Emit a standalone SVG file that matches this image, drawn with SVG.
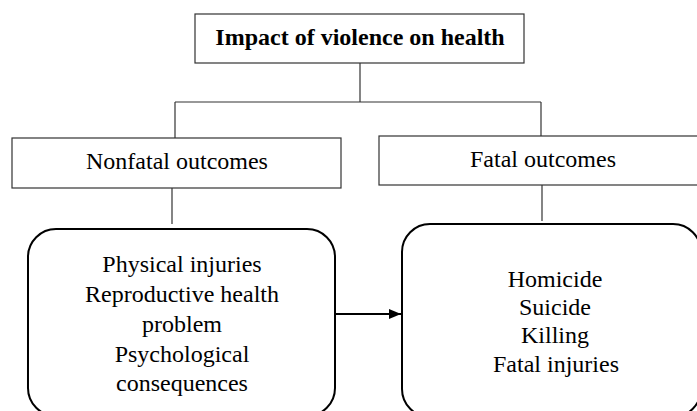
<svg xmlns="http://www.w3.org/2000/svg" width="697" height="411" viewBox="0 0 697 411">
<style>
  text { font-family: "Liberation Serif", "Times New Roman", serif; font-size: 24px; fill: #000; text-anchor: middle; }
  .title { font-weight: bold; }
  .box { fill: #fff; stroke: #333; stroke-width: 1.2; }
  .rbox { fill: #fff; stroke: #000; stroke-width: 2; }
  .conn { stroke: #333; stroke-width: 1.2; fill: none; }
  .arrow { stroke: #000; stroke-width: 2; fill: none; }
</style>
<defs>
  <marker id="ah" markerWidth="12" markerHeight="10" refX="12" refY="5" orient="auto" markerUnits="userSpaceOnUse">
    <path d="M0,0 L12,5 L0,10 Z" fill="#000"/>
  </marker>
</defs>
<rect width="697" height="411" fill="#fff"/>
<g id="connectors">
  <line class="conn" x1="360" y1="63" x2="360" y2="102"/>
  <line class="conn" x1="175" y1="102" x2="541" y2="102"/>
  <line class="conn" x1="175" y1="102" x2="175" y2="138"/>
  <line class="conn" x1="541" y1="102" x2="541" y2="136"/>
  <line class="conn" x1="172" y1="188" x2="172" y2="224"/>
  <line class="conn" x1="542" y1="185" x2="542" y2="221"/>
  <line class="arrow" x1="336" y1="314" x2="401" y2="314" marker-end="url(#ah)"/>
</g>
<g id="title">
  <rect class="box" x="195" y="14" width="329" height="49"/>
  <text class="title" x="360" y="45">Impact of violence on health</text>
</g>
<g id="nonfatal">
  <rect class="box" x="12" y="138" width="329" height="50"/>
  <text x="177" y="169">Nonfatal outcomes</text>
</g>
<g id="fatal">
  <rect class="box" x="379" y="136" width="330" height="49"/>
  <text x="543" y="167">Fatal outcomes</text>
</g>
<g id="nonfatal-list">
  <rect class="rbox" x="28" y="229" width="307" height="187" rx="28" ry="28"/>
  <text x="182" y="272">Physical injuries</text>
  <text x="182" y="302">Reproductive health</text>
  <text x="182" y="332">problem</text>
  <text x="182" y="362">Psychological</text>
  <text x="182" y="391">consequences</text>
</g>
<g id="fatal-list">
  <rect class="rbox" x="402" y="224" width="299" height="193" rx="28" ry="28"/>
  <text x="555" y="287">Homicide</text>
  <text x="555" y="315">Suicide</text>
  <text x="555" y="343">Killing</text>
  <text x="556" y="372">Fatal injuries</text>
</g>
</svg>
